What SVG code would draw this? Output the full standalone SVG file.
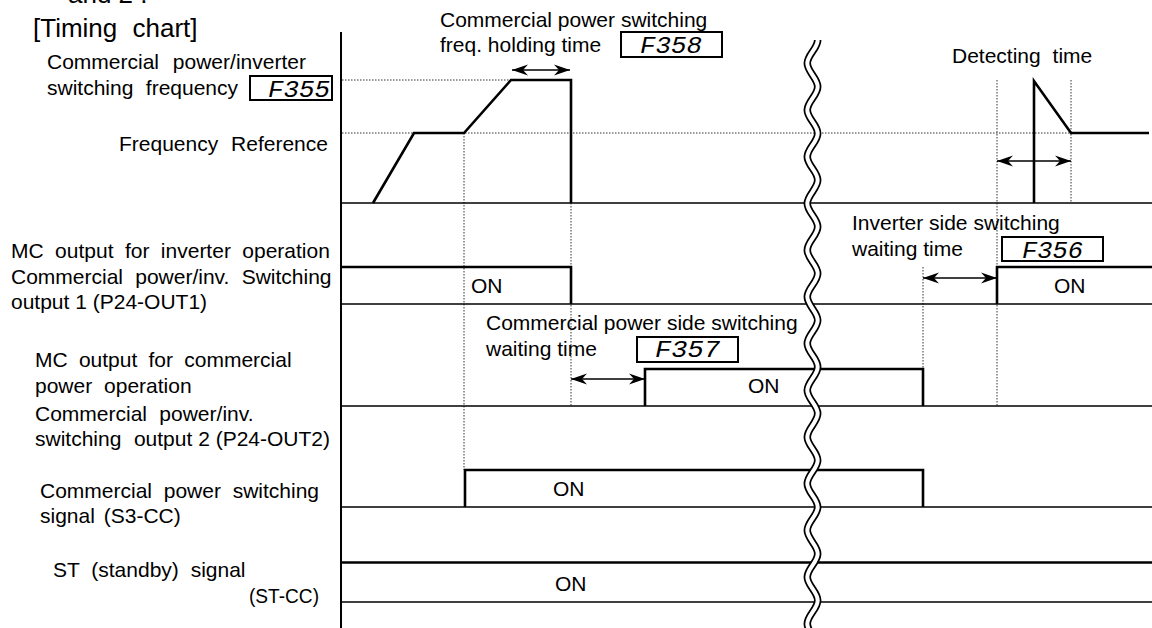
<svg xmlns="http://www.w3.org/2000/svg" xmlns:xlink="http://www.w3.org/1999/xlink" width="1152" height="628" viewBox="0 0 1152 628">
<style>
.t{font-family:"Liberation Sans",Arial,sans-serif;font-size:21px;fill:#000}
.big{font-size:26px}
.code{font-family:"Liberation Mono","DejaVu Sans Mono",monospace;font-style:italic;font-size:24px;fill:#000}
.box{fill:#fff;stroke:#000;stroke-width:2}
.base{stroke:#000;stroke-width:1.6;fill:none}
.sig{stroke:#000;stroke-width:2.6;fill:none;stroke-linejoin:miter}
.dot{stroke:#333;stroke-width:1;stroke-dasharray:1.5 1.5;fill:none}
.arr{stroke:#000;stroke-width:1.3;fill:none;marker-start:url(#ah);marker-end:url(#ah)}
</style>
<defs>
<marker id="ah" viewBox="0 0 16 12" refX="16" refY="6" markerWidth="16" markerHeight="12" orient="auto-start-reverse" markerUnits="userSpaceOnUse">
<path d="M0,0.5 L16,6 L0,11.5 L5,6 Z" fill="#000"/>
</marker>
<path id="wave" d="M817.7,40 C817.7,48.4 807.3,55 807.3,63.35 S817.7,78.3 817.7,86.7 S807.3,101.65 807.3,110.05 S817.7,125 817.7,133.4 S807.3,148.35 807.3,156.75 S817.7,171.7 817.7,180.1 S807.3,195.05 807.3,203.45 S817.7,218.4 817.7,226.8 S807.3,241.75 807.3,250.15 S817.7,265.1 817.7,273.5 S807.3,288.45 807.3,296.85 S817.7,311.8 817.7,320.2 S807.3,335.15 807.3,343.55 S817.7,358.5 817.7,366.9 S807.3,381.85 807.3,390.25 S817.7,405.2 817.7,413.6 S807.3,428.55 807.3,436.95 S817.7,451.9 817.7,460.3 S807.3,475.25 807.3,483.65 S817.7,498.6 817.7,507 S807.3,521.95 807.3,530.35 S817.7,545.3 817.7,553.7 S807.3,568.65 807.3,577.05 S817.7,592 817.7,600.4 S807.3,615.35 807.3,623.75 S817.7,638.7 817.7,647.1" fill="none"/>
</defs>
<rect width="1152" height="628" fill="#fff"/>

<g id="headings">
<text class="t big" x="68" y="3">and  2 .</text>
<text class="t big" x="33" y="37" style="word-spacing:8px">[Timing chart]</text>
</g>

<g id="guides">
<line class="dot" x1="342" y1="80" x2="511" y2="80"/>
<line class="dot" x1="342" y1="133" x2="1071" y2="133"/>
<line class="dot" x1="464" y1="133" x2="464" y2="470"/>
<line class="dot" x1="571" y1="203" x2="571" y2="406"/>
<line class="dot" x1="923" y1="267" x2="923" y2="369"/>
<line class="dot" x1="997" y1="80" x2="997" y2="406"/>
<line class="dot" x1="1071" y1="80" x2="1071" y2="203"/>
</g>

<g id="rows">
<line class="base" x1="341" y1="203" x2="1152" y2="203"/>
<line class="base" x1="341" y1="304" x2="1152" y2="304"/>
<line class="base" x1="341" y1="406" x2="1152" y2="406"/>
<line class="base" x1="341" y1="507" x2="1152" y2="507"/>
<line class="base" x1="341" y1="602" x2="1152" y2="602"/>
<line x1="341" y1="32" x2="341" y2="628" stroke="#000" stroke-width="2"/>
</g>

<g id="sig-frequency">
<path class="sig" d="M373,203 L414,133 L464,133 L511,80 L571,80 L571,203"/>
<path class="sig" d="M1034,203 L1034,81 L1071,133 L1149,133"/>
</g>
<g id="sig-out1">
<path class="sig" d="M341,267 L571,267 L571,304"/>
<path class="sig" d="M997,304 L997,267 L1152,267"/>
<text class="t" x="471" y="293">ON</text>
<text class="t" x="1054" y="293">ON</text>
</g>
<g id="sig-out2">
<path class="sig" d="M645,406 L645,369 L923,369 L923,406"/>
<text class="t" x="748" y="393">ON</text>
</g>
<g id="sig-s3">
<path class="sig" d="M465,507 L465,470 L923,470 L923,507"/>
<text class="t" x="553" y="496">ON</text>
</g>
<g id="sig-st">
<line class="sig" x1="341" y1="562.5" x2="1152" y2="562.5"/>
<text class="t" x="555" y="591">ON</text>
</g>

<g id="connectors">
<line class="arr" x1="512" y1="70" x2="570" y2="70"/>
<line class="arr" x1="997" y1="161" x2="1071" y2="161"/>
<line class="arr" x1="923" y1="278" x2="997" y2="278"/>
<line class="arr" x1="571" y1="379" x2="645" y2="379"/>
</g>

<g id="break">
<use xlink:href="#wave" stroke="#000" stroke-width="7.5"/>
<use xlink:href="#wave" stroke="#fff" stroke-width="4"/>
</g>

<g id="label-F355">
<text class="t" x="47" y="69" style="word-spacing:8px">Commercial power/inverter</text>
<text class="t" x="47" y="95" style="word-spacing:6.6px">switching frequency</text>
<rect class="box" x="250" y="76" width="82" height="24"/>
<text class="code" x="268" y="97" textLength="62" lengthAdjust="spacingAndGlyphs">F355</text>
</g>
<g id="label-freqref">
<text class="t" x="119" y="151" style="word-spacing:7px">Frequency Reference</text>
</g>
<g id="label-F358">
<text class="t" x="440" y="27">Commercial power switching</text>
<text class="t" x="440" y="52">freq. holding time</text>
<rect class="box" x="621" y="32" width="101" height="25"/>
<text class="code" x="640" y="53" textLength="62" lengthAdjust="spacingAndGlyphs">F358</text>
</g>
<g id="label-detect">
<text class="t" x="952" y="63" style="word-spacing:6px">Detecting time</text>
</g>
<g id="label-F356">
<text class="t" x="852" y="230">Inverter side switching</text>
<text class="t" x="852" y="256">waiting time</text>
<rect class="box" x="1002" y="237" width="101" height="24"/>
<text class="code" x="1022" y="258" textLength="61" lengthAdjust="spacingAndGlyphs">F356</text>
</g>
<g id="label-F357">
<text class="t" x="486" y="330">Commercial power side switching</text>
<text class="t" x="486" y="356">waiting time</text>
<rect class="box" x="637" y="337" width="101" height="25"/>
<text class="code" x="655" y="357" textLength="65" lengthAdjust="spacingAndGlyphs">F357</text>
</g>

<g id="label-out1">
<text class="t" x="11" y="258" style="word-spacing:5.6px">MC output for inverter operation</text>
<text class="t" x="11" y="284" style="word-spacing:6.4px">Commercial power/inv. Switching</text>
<text class="t" x="11" y="309">output 1 (P24-OUT1)</text>
</g>
<g id="label-out2">
<text class="t" x="35" y="367" style="word-spacing:5.4px">MC output for commercial</text>
<text class="t" x="35" y="393" style="word-spacing:6px">power operation</text>
<text class="t" x="35" y="421" style="word-spacing:6.5px">Commercial power/inv.</text>
<text class="t" x="35" y="446"><tspan style="word-spacing:6.7px">switching </tspan>output 2 (P24-OUT2)</text>
</g>
<g id="label-s3">
<text class="t" x="40" y="498" style="word-spacing:5.9px">Commercial power switching</text>
<text class="t" x="40" y="523" style="word-spacing:3px">signal (S3-CC)</text>
</g>
<g id="label-st">
<text class="t" x="53" y="577" style="word-spacing:6px">ST (standby) signal</text>
<text class="t" x="249" y="603" textLength="70" lengthAdjust="spacingAndGlyphs">(ST-CC)</text>
</g>
</svg>
